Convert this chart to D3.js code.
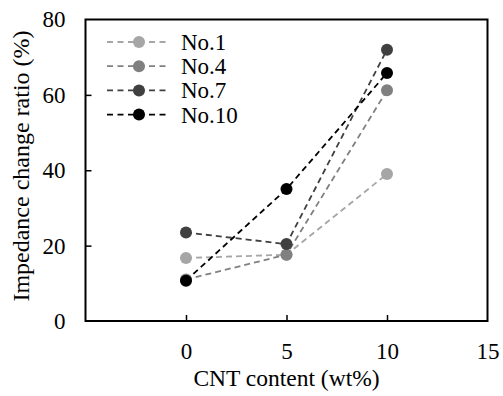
<!DOCTYPE html>
<html>
<head>
<meta charset="utf-8">
<script src="https://cdn.jsdelivr.net/npm/d3@7"></script>
<style>
  body { margin: 0; background: #fff; }
</style>
</head>
<body>
<div id="container"></div>
<script>
// data
let cntContent = [0, 5, 10];
let seriesNames = ["No.1", "No.4", "No.7", "No.10"];
let no1 = [16.7, 17.6, 39.0];
let no4 = [11.0, 17.6, 61.2];
let no7 = [23.5, 20.4, 72.0];
let no10 = [10.7, 35.0, 65.8];
let seriesColors = ["#a6a6a6", "#808080", "#404040", "#000000"];
let xTicks = [0, 5, 10, 15];
let yTicks = [0, 20, 40, 60, 80];

let w = 503;
let h = 396;
let plotLeft = 85.5, plotRight = 487.5, plotTop = 19.5, plotBottom = 321;
let serif = "Liberation Serif";

let viz = d3.select("#container")
  .append("svg")
    .attr("width", w)
    .attr("height", h)
    .attr("font-family", serif)
;

let xScale = d3.scaleLinear().domain([-5, 15]).range([plotLeft, plotRight]);
let yScale = d3.scaleLinear().domain([0, 80]).range([plotBottom, plotTop]);

let allSeries = [no1, no4, no7, no10].map(function(vals, i){
  return {
    name: seriesNames[i],
    color: seriesColors[i],
    points: vals.map(function(v, j){ return {x: cntContent[j], y: v}; })
  };
});

// frame
viz.append("rect")
  .attr("x", plotLeft).attr("y", plotTop)
  .attr("width", plotRight - plotLeft).attr("height", plotBottom - plotTop)
  .attr("fill", "none").attr("stroke", "#000").attr("stroke-width", 2);

// x axis: inward ticks, labels far below
let xAxis = d3.axisBottom(xScale)
  .tickValues(xTicks)
  .tickSize(-6)
  .tickPadding(22)
  .tickFormat(d3.format("d"));
let xAxisGroup = viz.append("g")
  .attr("transform", "translate(0," + plotBottom + ")")
  .call(xAxis)
  .attr("font-family", serif)
  .attr("font-size", 23);
xAxisGroup.select(".domain").remove();
xAxisGroup.selectAll(".tick line")
  .attr("stroke", "#000").attr("stroke-width", 1.5)
  .filter(function(d){ return d === 15; }).remove();
xAxisGroup.selectAll("text").attr("fill", "#000");

// y axis: inward ticks
let yAxis = d3.axisLeft(yScale)
  .tickValues(yTicks)
  .tickSize(-6)
  .tickPadding(20)
  .tickFormat(d3.format("d"));
let yAxisGroup = viz.append("g")
  .attr("transform", "translate(" + plotLeft + ",0)")
  .call(yAxis)
  .attr("font-family", serif)
  .attr("font-size", 23);
yAxisGroup.select(".domain").remove();
yAxisGroup.selectAll(".tick line")
  .attr("stroke", "#000").attr("stroke-width", 1.5)
  .filter(function(d){ return d === 0 || d === 80; }).remove();
yAxisGroup.selectAll("text").attr("fill", "#000");

// axis titles
viz.append("text")
  .attr("x", (xScale(0) + xScale(10)) / 2).attr("y", 386)
  .attr("text-anchor", "middle").attr("font-size", 23.5)
  .attr("font-family", serif)
  .text("CNT content (wt%)");

viz.append("text")
  .attr("transform", "translate(29,166) rotate(-90)")
  .attr("text-anchor", "middle").attr("font-size", 24)
  .attr("font-family", serif)
  .text("Impedance change ratio (%)");

// lines
let lineMaker = d3.line()
  .x(function(d){ return xScale(d.x); })
  .y(function(d){ return yScale(d.y); });

let graphGroup = viz.append("g");
graphGroup.selectAll(".line").data(allSeries).enter()
  .append("path")
  .attr("class", "line")
  .attr("d", function(d){ return lineMaker(d.points); })
  .attr("fill", "none")
  .attr("stroke", function(d){ return d.color; })
  .attr("stroke-width", 1.8)
  .attr("stroke-dasharray", "6,4");

// markers
allSeries.forEach(function(s){
  graphGroup.selectAll(null).data(s.points).enter()
    .append("circle")
    .attr("cx", function(d){ return xScale(d.x); })
    .attr("cy", function(d){ return yScale(d.y); })
    .attr("r", 6)
    .attr("fill", s.color);
});

// legend
let legend = viz.append("g");
let legendRows = legend.selectAll("g").data(allSeries).enter()
  .append("g")
  .attr("transform", function(d, i){ return "translate(107," + (42 + i * 24.2) + ")"; });
legendRows.append("line")
  .attr("x1", 0).attr("x2", 63).attr("y1", 0).attr("y2", 0)
  .attr("stroke", function(d){ return d.color; })
  .attr("stroke-width", 1.8)
  .attr("stroke-dasharray", "6,4.5");
legendRows.append("circle")
  .attr("cx", 32).attr("cy", 0).attr("r", 6)
  .attr("fill", function(d){ return d.color; });
legendRows.append("text")
  .attr("x", 74).attr("y", 8)
  .attr("font-size", 23)
  .attr("font-family", serif)
  .text(function(d){ return d.name; });
</script>
</body>
</html>
